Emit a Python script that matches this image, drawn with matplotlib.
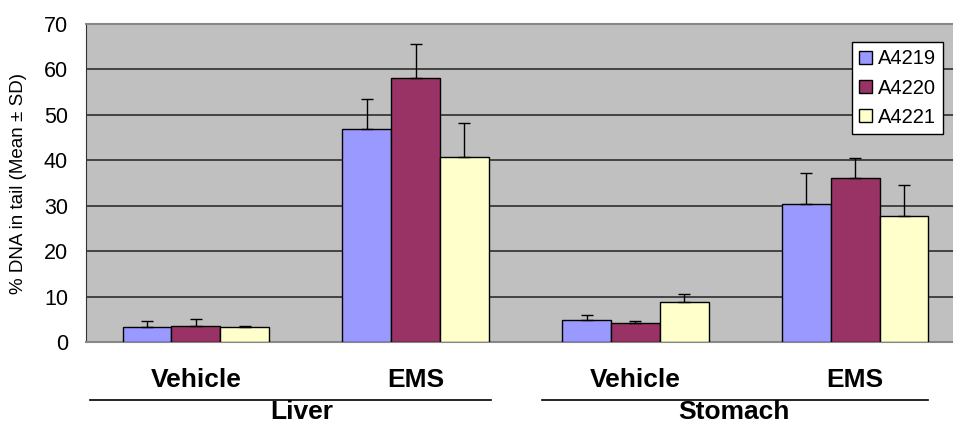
import numpy as np
import matplotlib
matplotlib.use("Agg")
import matplotlib.pyplot as plt

plt.rcParams['font.family'] = ['Liberation Sans', 'DejaVu Sans']

# comet assay, % DNA in tail per animal
treatments = ["Vehicle", "EMS", "Vehicle", "EMS"]
tissues = ["Liver", "Stomach"]
animals = ["A4219", "A4220", "A4221"]

a4219_mean = [3.3, 46.9, 4.9, 30.3]
a4219_sd = [1.3, 6.6, 1.0, 7.0]
a4220_mean = [3.6, 58.1, 4.1, 36.0]
a4220_sd = [1.4, 7.6, 0.5, 4.4]
a4221_mean = [3.2, 40.7, 8.7, 27.7]
a4221_sd = [0.4, 7.6, 1.8, 6.9]

colors = ["#9999FF", "#993366", "#FFFFCC"]

fig = plt.figure(figsize=(9.54, 4.25), dpi=100)
ax = fig.add_axes([86 / 954, 1 - 342 / 425, 1 - 86 / 954, 318 / 425])
ax.set_facecolor("#C0C0C0")

x = np.arange(len(treatments))
width = 0.222
series = [(a4219_mean, a4219_sd), (a4220_mean, a4220_sd), (a4221_mean, a4221_sd)]
for i, (means, sds) in enumerate(series):
    lower = np.zeros(len(sds))
    ax.bar(x + (i - 1) * width, means, width, color=colors[i], edgecolor="black",
           linewidth=1.0, label=animals[i], zorder=3,
           yerr=[lower, sds], capsize=4.5,
           error_kw=dict(ecolor="black", elinewidth=1.0, capthick=1.0, zorder=4))

ax.set_ylim(0, 70)
ax.set_xlim(-0.5, 3.45)
ax.set_yticks(range(0, 71, 10))
ax.yaxis.grid(True, color="#222222", linewidth=1.1, zorder=1)
ax.tick_params(axis="y", labelsize=15.5, length=0, pad=13)
ax.set_xticks(x)
ax.set_xticklabels(treatments, fontsize=19, fontweight="bold")
ax.tick_params(axis="x", length=0, pad=19)

ax.spines["right"].set_visible(False)
ax.spines["left"].set_color("#333333")
ax.spines["top"].set_color("#888888")
ax.spines["bottom"].set_color("#888888")
ax.spines["top"].set_linewidth(1.5)
ax.spines["bottom"].set_linewidth(1.5)

ax.set_ylabel("% DNA in tail (Mean \u00b1 SD)", fontsize=13.5, labelpad=12)

# tissue brackets beneath the treatment labels
trans = ax.get_xaxis_transform()
brackets = [(-0.48, 1.345, 0.48), (1.577, 3.33, 2.45)]
for (x0, x1, xc), name in zip(brackets, tissues):
    ax.plot([x0, x1], [-0.182, -0.182], color="black", linewidth=1.2,
            transform=trans, clip_on=False)
    ax.text(xc, -0.219, name, transform=trans, ha="center", va="center",
            fontsize=19, fontweight="bold")

leg = ax.legend(loc="upper right", bbox_to_anchor=(0.987, 0.942), fontsize=14.5,
                frameon=True, fancybox=False, edgecolor="black",
                handlelength=0.6, handleheight=0.6, handletextpad=0.3,
                borderpad=0.35, labelspacing=0.5, borderaxespad=0)
leg.get_frame().set_linewidth(1.0)
leg.get_frame().set_facecolor("white")
leg.get_frame().set_alpha(1)

fig.savefig("out.png", dpi=100)
